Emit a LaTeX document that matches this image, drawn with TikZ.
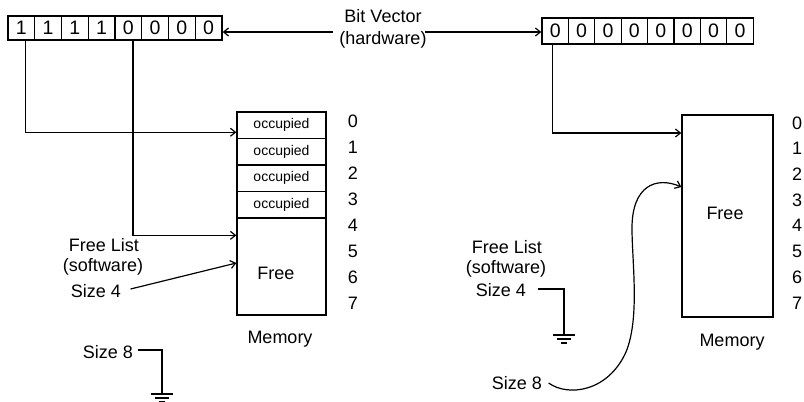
\documentclass[tikz,border=0pt]{standalone}
\usepackage{fontspec}
\setmainfont{Liberation Sans}
\usetikzlibrary{arrows.meta}
\begin{document}
\begin{tikzpicture}[x=1pt,y=-1pt,line width=1.2pt,
  every node/.style={inner sep=0pt,font=\fontsize{18}{22}\selectfont},
  cell/.style={draw,line width=1.3pt,minimum height=24pt,font=\fontsize{19.5}{20}\selectfont},
  occ/.style={draw,line width=1.3pt,minimum width=89pt,minimum height=26.5pt,font=\fontsize{14}{15}\selectfont},
  membox/.style={draw,line width=1.3pt},
  arr/.style={-{Straight Barb[length=5pt,width=8pt]}},
  num/.style={font=\fontsize{18}{20}\selectfont}]
\useasboundingbox (0,0) rectangle (804,402);
% bit vectors
\foreach \i/\b in {1/1,2/1,3/1,4/1,5/0,6/0,7/0,8/0}
  \node[cell,minimum width=26.75pt] (L\i) at ({8+26.75*(\i-0.5)},28) {\b};
\foreach \i in {1,...,8}
  \node[cell,minimum width=26.4pt,minimum height=26pt] (R\i) at ({542+26.4*(\i-0.5)},31) {0};
\node[align=center] (bv) at (383,29) {Bit Vector\\(hardware)};
\coordinate (bvL) at (333,32);
\coordinate (bvR) at (425,32);
\draw[arr] (bvL) -- (L8.east |- bvL);
\draw[arr] (bvR) -- (R1.west |- bvR);
% left memory
\foreach \i in {0,...,3}
  \node[occ] (M\i) at (281.5,{125.25+26.5*\i}) {occupied};
\node[membox,minimum width=89pt,minimum height=97pt] (F) at (281.5,266.5) {};
\node (Ft) at (276,273) {Free};
\foreach \i in {0,...,7}
  \node[num] (nl\i) at (353,{121+26*\i}) {\i};
\node (meml) at (280,339) {Memory};
% right memory
\node[membox,minimum width=91pt,minimum height=202pt] (RM) at (727.5,216) {};
\node (RFt) at (725,213) {Free};
\foreach \i in {0,...,7}
  \node[num] (nr\i) at (797,{123+25.7*\i}) {\i};
\node (memr) at (732,342) {Memory};
% left connectors
\draw[arr] ([xshift=4pt]L1.south) |- ([yshift=-7pt]M0.west);
\draw[arr] ([xshift=4.6pt]L5.south) |- ([yshift=-18pt]F.north west);
% left free list
\node (fll) at (104,245) {Free List};
\node (swl) at (103,267) {(software)};
\node (s4l) at (96,291) {Size 4};
\node (s8l) at (108,352) {Size 8};
\draw[arr] ([xshift=9pt,yshift=2pt]s4l.east) -- ([yshift=3.5pt]F.west);
\coordinate (gL) at (162,394);
\draw ([xshift=4pt,yshift=2pt]s8l.east) -| (gL);
% right free list
\draw[arr] ([xshift=-3pt]R1.south) |- ([yshift=83pt]RM.west);
\node (flr) at (507,247) {Free List};
\node (swr) at (506,269) {(software)};
\node (s4r) at (501,290) {Size 4};
\node (s8r) at (517,383) {Size 8};
\coordinate (gR) at (564,335);
\draw ([xshift=11pt,yshift=1pt]s4r.east) -| (gR);
\draw[arr] ([xshift=6pt]s8r.east) .. controls (568,397) and (608,392) .. (626,352)
  .. controls (640,318) and (632,262) .. (632,228)
  .. controls (632,186) and (656,176) .. ([yshift=29pt]RM.west);
% ground symbols
\foreach \g in {gL,gR}{
  \draw ([xshift=-11pt]\g) -- ([xshift=11pt]\g);
  \draw ([xshift=-7pt,yshift=-4pt]\g) -- ([xshift=7pt,yshift=-4pt]\g);
  \draw ([xshift=-3pt,yshift=-8pt]\g) -- ([xshift=3pt,yshift=-8pt]\g);
}
\end{tikzpicture}
\end{document}
